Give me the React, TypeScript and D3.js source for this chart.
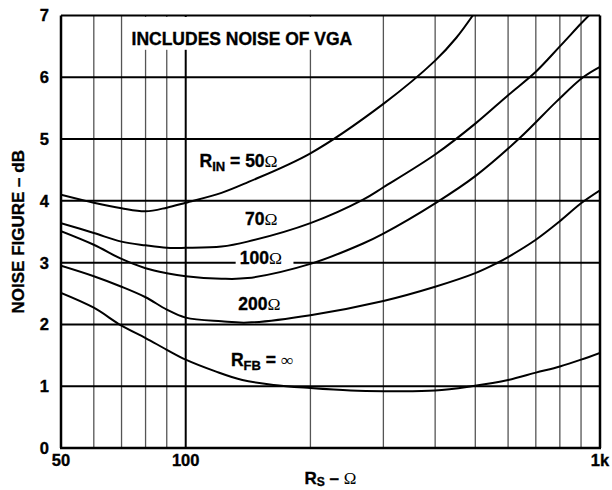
import React from 'react';
import * as d3 from 'd3';

// source resistance (ohms) and noise figure (dB) per curve
const rsRin50 = [50, 60, 70, 80, 90, 100, 122, 141, 200, 300, 400, 450, 493];
const nfRin50 = [4.1, 3.97, 3.88, 3.83, 3.89, 3.97, 4.13, 4.3, 4.77, 5.57, 6.27, 6.64, 7.0];

const rsRin70 = [50, 60, 70, 80, 90, 100, 122, 141, 200, 268, 300, 400, 500, 600, 700, 800, 900, 940];
const nfRin70 = [3.64, 3.48, 3.34, 3.28, 3.24, 3.24, 3.26, 3.34, 3.64, 4.02, 4.22, 4.75, 5.25, 5.71, 6.09, 6.5, 6.87, 7.0];

const rsRin100 = [50, 60, 70, 80, 90, 100, 122, 141, 200, 268, 300, 400, 500, 641, 786, 910, 1000];
const nfRin100 = [3.51, 3.29, 3.06, 2.91, 2.83, 2.78, 2.74, 2.75, 2.98, 3.31, 3.47, 3.96, 4.4, 5.02, 5.61, 6.0, 6.17];

const rsRin200 = [50, 60, 70, 80, 90, 100, 122, 141, 200, 300, 400, 500, 563, 600, 700, 800, 900, 1000];
const nfRin200 = [2.95, 2.78, 2.61, 2.44, 2.24, 2.11, 2.05, 2.03, 2.15, 2.38, 2.61, 2.83, 2.99, 3.09, 3.37, 3.67, 3.96, 4.17];

const rsRfbInf = [50, 60, 70, 80, 90, 100, 118, 137, 163, 200, 250, 300, 400, 490, 600, 700, 800, 900, 1000];
const nfRfbInf = [2.51, 2.27, 1.98, 1.78, 1.59, 1.43, 1.24, 1.1, 1.02, 0.97, 0.93, 0.92, 0.93, 1.0, 1.1, 1.22, 1.32, 1.43, 1.54];

const yTicks = [0, 1, 2, 3, 4, 5, 6, 7];
const xTickValues = [50, 100, 1000];
const xTickLabels = ['50', '100', '1k'];
const minorGrid = [60, 70, 80, 90, 200, 300, 400, 500, 600, 700, 800, 900];

const W = 612;
const H = 490;
const sans = '"Liberation Sans", Arial, Helvetica, sans-serif';
const serif = '"Liberation Serif", "Times New Roman", serif';

export default function App() {
  const x = d3.scaleLog().domain([50, 1000]).range([61, 600]);
  const y = d3.scaleLinear().domain([0, 7]).range([448, 15.5]);
  const [x0, x1] = x.range();
  const [y0, y1] = y.range();

  const line = d3
    .line<[number, number]>()
    .x((d) => x(d[0]))
    .y((d) => y(d[1]))
    .curve(d3.curveCatmullRom.alpha(0.5));

  const series = [
    [rsRin50, nfRin50],
    [rsRin70, nfRin70],
    [rsRin100, nfRin100],
    [rsRin200, nfRin200],
    [rsRfbInf, nfRfbInf],
  ].map(([rs, nf]) => rs.map((r, i) => [r, nf[i]] as [number, number]));

  // slight outline to mimic the heavy bold of the original
  const heavy = { stroke: '#000', strokeWidth: 0.35 };

  return (
    <svg
      width={W}
      height={H}
      style={{ position: 'absolute', left: 0, top: 0, background: '#fff' }}
      fontFamily={sans}
      fontWeight="bold"
    >
      <defs>
        <clipPath id="plot">
          <rect x={x0} y={y1} width={x1 - x0} height={y0 - y1} />
        </clipPath>
      </defs>

      {/* minor vertical grid */}
      {minorGrid.map((v) => (
        <line key={v} x1={x(v)} x2={x(v)} y1={y0} y2={y1} stroke="#555" strokeWidth={1.3} />
      ))}
      <line x1={x(100)} x2={x(100)} y1={y0} y2={y1} stroke="#000" strokeWidth={2} />

      {/* horizontal grid */}
      {yTicks.slice(1, -1).map((v) => (
        <line key={v} x1={x0} x2={x1} y1={y(v)} y2={y(v)} stroke="#000" strokeWidth={2} />
      ))}

      {/* frame */}
      <line x1={x0} x2={x1} y1={y1} y2={y1} stroke="#000" strokeWidth={2} />
      <line x1={x1} x2={x1} y1={y1} y2={y0} stroke="#000" strokeWidth={2.5} />
      <line x1={x0} x2={x0} y1={y1} y2={y0} stroke="#000" strokeWidth={2.5} />
      <line x1={x0 - 1} x2={x1 + 1} y1={y0} y2={y0} stroke="#000" strokeWidth={2.5} />

      {/* white boxes behind annotations */}
      <rect x={x(72)} y={y1 + 1.5} width={x(205) - x(72)} height={y(6.55) - y1 + 5} fill="#fff" />
      <rect x={x(132)} y={y(3.22)} width={x(182) - x(132)} height={y(2.95) - y(3.22)} fill="#fff" />

      {/* curves */}
      <g clipPath="url(#plot)">
        {series.map((s, i) => (
          <path key={i} d={line(s) || ''} fill="none" stroke="#000" strokeWidth={2} />
        ))}
      </g>

      {/* annotations */}
      <g fontSize={17.5} fill="#000">
        <text x={x(74)} y={y(6.53)} fontSize={17.5} {...heavy}>INCLUDES NOISE OF VGA</text>
        <text x={x(108)} y={y(4.55)} {...heavy}>
          R<tspan fontSize={13} dy={4}>IN</tspan>
          <tspan dy={-4}> = 50</tspan>
          <tspan fontFamily={serif} fontWeight="normal" strokeWidth={0}>Ω</tspan>
        </text>
        <text x={x(139)} y={y(3.61)} {...heavy}>
          70<tspan fontFamily={serif} fontWeight="normal" strokeWidth={0}>Ω</tspan>
        </text>
        <text x={x(135)} y={y(2.97)} {...heavy}>
          100<tspan fontFamily={serif} fontWeight="normal" strokeWidth={0}>Ω</tspan>
        </text>
        <text x={x(134)} y={y(2.24)} {...heavy}>
          200<tspan fontFamily={serif} fontWeight="normal" strokeWidth={0}>Ω</tspan>
        </text>
        <text x={x(128.6)} y={y(1.32)} {...heavy}>
          R<tspan fontSize={13} dy={4}>FB</tspan>
          <tspan dy={-4}> = </tspan>
          <tspan fontFamily={serif} fontWeight="normal" strokeWidth={0}>∞</tspan>
        </text>
      </g>

      {/* y ticks */}
      <g fontSize={16.5} textAnchor="end" {...heavy}>
        {yTicks.map((v) => (
          <text key={v} x={x0 - 12} y={y(v)} dy="0.36em">
            {v}
          </text>
        ))}
      </g>

      {/* x ticks */}
      <g fontSize={16.5} textAnchor="middle" {...heavy}>
        {xTickValues.map((v, i) => (
          <text key={v} x={x(v)} y={y0 + 18}>
            {xTickLabels[i]}
          </text>
        ))}
      </g>

      {/* axis titles */}
      <text
        transform={`translate(24, ${(y0 + y1) / 2}) rotate(-90)`}
        textAnchor="middle"
        fontSize={17}
        {...heavy}
      >
        NOISE FIGURE – dB
      </text>
      <text x={(x0 + x1) / 2} y={H - 6} textAnchor="middle" fontSize={17} {...heavy}>
        R<tspan fontSize={12} dy={2}>S</tspan>
        <tspan dy={-2}> – </tspan>
        <tspan fontFamily={serif} fontWeight="normal" strokeWidth={0}>Ω</tspan>
      </text>
    </svg>
  );
}
